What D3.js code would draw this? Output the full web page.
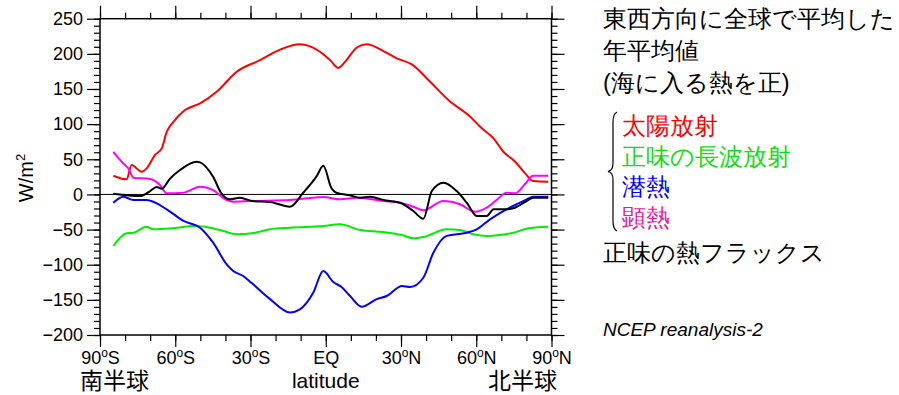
<!DOCTYPE html>
<html>
<head>
<meta charset="utf-8">
<script src="https://cdn.jsdelivr.net/npm/d3@7"></script>
<style>
  html, body { margin: 0; padding: 0; background: #fff; }
  svg { display: block; }
  text { font-family: "Liberation Sans", Arial, sans-serif; }
  .jp { font-family: "Noto Sans CJK JP", "Noto Sans", sans-serif; }
</style>
</head>
<body>
<svg id="chart" width="899" height="395"></svg>
<script>
// zonal-mean annual surface heat fluxes (W/m2), [latitude, value]
var solar = [[-84.7,26.6],[-79.4,21.5],[-77.4,41.8],[-73.4,32.3],[-71.4,37],[-68.1,56],[-65.4,65.5],
  [-63.4,89],[-60.8,103],[-56.1,120],[-50.1,129.6],[-43.5,146],[-35.5,174.5],[-26.2,191],[-18.2,206],
  [-10.3,213.5],[-2.3,203],[2,190],[5,180],[8,190],[12.3,208.7],[16.3,213.5],[23,204],[28.3,193.6],
  [34.3,185],[41.7,160],[49,134],[57.6,110.5],[62.2,94],[66.9,79.8],[70.8,60.7],[75.5,46.5],
  [79.5,30],[82.8,19],[88.7,18]];
var longwave = [[-84.7,-73.4],[-79.4,-55.3],[-76.7,-54.5],[-71.4,-46],[-68.7,-49.6],[-63.4,-48.8],
  [-51.5,-45],[-46.2,-47.4],[-40.8,-52],[-35.5,-56.8],[-29.4,-55.3],[-22.2,-49.6],[-14.3,-47.4],
  [-1,-45],[5.7,-42.6],[13.7,-50.6],[23,-53.5],[30.4,-57.8],[34.9,-62.4],[38.9,-60.6],[48.2,-49.6],
  [53.5,-50.6],[58.8,-56.8],[64.2,-59.2],[69.5,-57.8],[74.8,-54.5],[80.1,-48.8],[88.7,-46]];
var latent = [[-84.7,-11.8],[-80.7,-3.3],[-76.7,-8],[-71.4,-8],[-63.4,-21.2],[-56.7,-37.8],
  [-50.1,-47.4],[-44.9,-68.7],[-39.5,-99.5],[-36.9,-109],[-32.9,-116],[-29.4,-126.5],[-22.2,-149],
  [-14.3,-168],[-10.3,-163.5],[-5,-140],[-1,-109],[3,-124.6],[6.3,-131.7],[9.7,-144.5],[14.3,-159.7],
  [20.3,-149],[24.3,-144.5],[30.4,-130.3],[33.6,-131.7],[38.9,-118.5],[42.9,-83],[48.2,-59],
  [56.2,-54.5],[60.2,-49.6],[65.5,-35.4],[70.8,-23.6],[76.1,-14],[80.1,-7],[82.7,-3.3],[88.7,-3.3]];
var sensible = [[-84.7,60.7],[-80.7,44],[-78.7,37],[-76.7,23.8],[-70,21.9],[-66.1,13.4],[-63.4,1.5],
  [-56.7,2.4],[-50.1,11],[-44.9,6.2],[-39.5,-8],[-36.9,-10.3],[-30.2,-9.4],[-14.3,-8],[-1,-3.7],
  [5.7,-7],[12.3,-4.7],[23,-9.4],[29.6,-11.8],[34.9,-17.5],[38.9,-22.6],[46.9,-9.4],[53.5,-14],
  [59.5,-24.6],[64.2,-18.9],[68.1,-8],[72.1,2.4],[75.4,1.5],[79.4,14.4],[82.7,26.5],[88.7,26.5]];
var netflux = [[-84.7,1],[-74,-2.3],[-70,4.8],[-67.4,10.5],[-65.4,8],[-62.2,22],[-58.1,34.7],
  [-51.5,46.5],[-50.1,45.6],[-44.9,25],[-41.6,1.5],[-38.2,-7],[-34.2,-4.7],[-29.4,-9.4],[-22.2,-10.8],
  [-14.3,-17.5],[-9,2.4],[-3.6,26],[-1,40.8],[2.3,8.7],[4.2,2.4],[9.7,-1.3],[13.7,-4.7],[17.7,-3.3],
  [23,-8],[28.3,-10.8],[29.6,-11.8],[34.9,-23.6],[38.9,-34.6],[42.3,4.8],[46.9,16.6],[52.2,4.8],
  [56.2,-11.8],[60.2,-30.7],[64.2,-30.7],[66.9,-21.2],[72.1,-21.2],[75.4,-18.9],[80.1,-9.4],
  [82.7,-4.7],[88.7,-4.7]];

var series = [
  { data: solar, color: "#ff0000" },
  { data: sensible, color: "#ff00ff" },
  { data: longwave, color: "#00ee00" },
  { data: latent, color: "#0000ff" },
  { data: netflux, color: "#000000" }
];

var xTicks = [-90, -60, -30, 0, 30, 60, 90];
var xTickLabels = ["90|S", "60|S", "30|S", "EQ", "30|N", "60|N", "90|N"];
var yTicks = [-200, -150, -100, -50, 0, 50, 100, 150, 200, 250];

var legendTitle = ["東西方向に全球で平均した", "年平均値", "(海に入る熱を正)"];
var legendItems = [
  { label: "太陽放射", color: "#ff0000" },
  { label: "正味の長波放射", color: "#11dd11" },
  { label: "潜熱", color: "#0000ff" },
  { label: "顕熱", color: "#e8189c" }
];

var svg = d3.select("#chart");
var L = 100, R = 551.5, T = 18.7, B = 335;

var x = d3.scaleLinear().domain([-90, 90]).range([L, R]);
var y = d3.scaleLinear().domain([-200, 250]).range([B, T]);

function styleAxis(g) {
  g.select(".domain").remove();
  g.selectAll(".tick line").attr("stroke", "#000").attr("stroke-width", 1.2);
  g.selectAll("text").attr("fill", "#000").style("font-size", "18px")
    .style("font-family", "'Liberation Sans', Arial, sans-serif");
}

// minor ticks
svg.append("g").attr("transform", "translate(" + L + ",0)")
  .call(d3.axisLeft(y).tickValues(d3.range(-200, 251, 10)).tickSize(6).tickFormat(""))
  .call(styleAxis);
svg.append("g").attr("transform", "translate(" + R + ",0)")
  .call(d3.axisRight(y).tickValues(d3.range(-200, 251, 10)).tickSize(6).tickFormat(""))
  .call(styleAxis);
svg.append("g").attr("transform", "translate(0," + B + ")")
  .call(d3.axisBottom(x).tickValues(d3.range(-90, 91, 10)).tickSize(6).tickFormat(""))
  .call(styleAxis);
svg.append("g").attr("transform", "translate(0," + T + ")")
  .call(d3.axisTop(x).tickValues(d3.range(-90, 91, 10)).tickSize(6).tickFormat(""))
  .call(styleAxis);

// major ticks
svg.append("g").attr("transform", "translate(" + L + ",0)")
  .call(d3.axisLeft(y).tickValues(yTicks).tickSize(13).tickPadding(4)
    .tickFormat(function (d) { return d < 0 ? "\u2212" + Math.abs(d) : d; }))
  .call(styleAxis);
svg.append("g").attr("transform", "translate(" + R + ",0)")
  .call(d3.axisRight(y).tickValues(yTicks).tickSize(13).tickFormat(""))
  .call(styleAxis);
svg.append("g").attr("transform", "translate(0," + T + ")")
  .call(d3.axisTop(x).tickValues(xTicks).tickSize(13).tickFormat(""))
  .call(styleAxis);
var xb = svg.append("g").attr("transform", "translate(0," + B + ")")
  .call(d3.axisBottom(x).tickValues(xTicks).tickSize(12).tickPadding(5).tickFormat(""))
  .call(styleAxis);

xb.selectAll(".tick").each(function (d, i) {
  var t = d3.select(this).append("text")
    .attr("y", 29).attr("text-anchor", "middle").attr("fill", "#000")
    .style("font-size", "18px");
  var parts = xTickLabels[i].split("|");
  if (parts.length === 1) { t.text(parts[0]); return; }
  t.append("tspan").text(parts[0]);
  t.append("tspan").attr("dy", -7).style("font-size", "12px").text("o");
  t.append("tspan").attr("dy", 7).text(parts[1]);
});

// zero line
svg.append("line").attr("x1", L).attr("x2", R).attr("y1", y(0)).attr("y2", y(0))
  .attr("stroke", "#000").attr("stroke-width", 1);

var line = d3.line()
  .x(function (d) { return x(d[0]); })
  .y(function (d) { return y(d[1]); })
  .curve(d3.curveMonotoneX);

svg.append("g").selectAll("path").data(series).join("path")
  .attr("fill", "none")
  .attr("stroke", function (d) { return d.color; })
  .attr("stroke-width", 2)
  .attr("stroke-linejoin", "round")
  .attr("d", function (d) { return line(d.data); });

// frame
svg.append("rect").attr("x", L).attr("y", T).attr("width", R - L).attr("height", B - T)
  .attr("fill", "none").attr("stroke", "#000").attr("stroke-width", 1.5);

// axis titles
svg.append("text")
  .attr("transform", "translate(33," + 178 + ") rotate(-90)")
  .attr("text-anchor", "middle").style("font-size", "20px")
  .call(function (t) {
    t.append("tspan").text("W/m");
    t.append("tspan").attr("dy", -8).style("font-size", "13px").text("2");
  });
svg.append("text").attr("x", x(0)).attr("y", 388).attr("text-anchor", "middle")
  .style("font-size", "21px").text("latitude");
svg.append("text").attr("class", "jp").attr("x", 80).attr("y", 389)
  .style("font-size", "23px").text("南半球");
svg.append("text").attr("class", "jp").attr("x", 557).attr("y", 389).attr("text-anchor", "end")
  .style("font-size", "23px").text("北半球");

// legend panel
var lg = svg.append("g").attr("class", "jp");
legendTitle.forEach(function (s, i) {
  lg.append("text").attr("x", 603).attr("y", 27 + i * 32)
    .style("font-size", "23.5px").attr("fill", "#000").text(s);
});
legendItems.forEach(function (it, i) {
  lg.append("text").attr("x", 622).attr("y", 134 + i * 30.5)
    .style("font-size", "23.5px").attr("fill", it.color).text(it.label);
});
lg.append("text").attr("x", 603).attr("y", 261)
  .style("font-size", "23.5px").attr("fill", "#000").text("正味の熱フラックス");

// brace
var bx = 614, by0 = 112, by1 = 231, bm = (by0 + by1) / 2;
svg.append("path")
  .attr("fill", "none").attr("stroke", "#000").attr("stroke-width", 1.2)
  .attr("d", "M" + (bx + 3) + " " + by0 +
    "Q" + (bx - 1) + " " + (by0 + 2) + " " + (bx - 1) + " " + (by0 + 10) +
    "L" + (bx - 1) + " " + (bm - 8) +
    "Q" + (bx - 1) + " " + (bm - 1) + " " + (bx - 6) + " " + bm +
    "Q" + (bx - 1) + " " + (bm + 1) + " " + (bx - 1) + " " + (bm + 8) +
    "L" + (bx - 1) + " " + (by1 - 10) +
    "Q" + (bx - 1) + " " + (by1 - 2) + " " + (bx + 3) + " " + by1);

svg.append("text").attr("x", 603).attr("y", 336)
  .style("font-size", "19px").style("font-style", "italic").text("NCEP reanalysis-2");
</script>
</body>
</html>
